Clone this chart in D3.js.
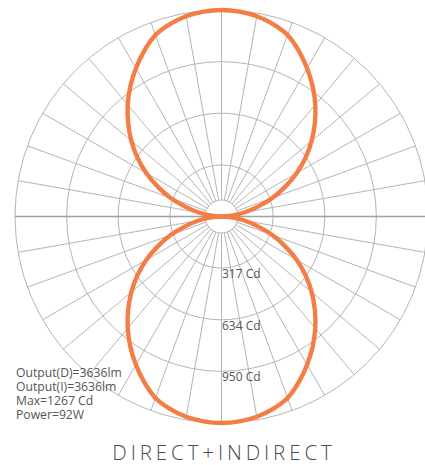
<!DOCTYPE html>
<html>
<head>
<meta charset="utf-8">
<script src="https://cdn.jsdelivr.net/npm/d3@7"></script>
<style>
  html, body { margin: 0; padding: 0; background: #fff; overflow: hidden; }
  svg { display: block; }
</style>
</head>
<body>
<svg id="chart" width="425" height="465"></svg>
<script>
// ---- data ----
const angles = [0,5,10,15,20,25,30,35,40,45,50,55,60,65,70,75,80,85,90];
const directCd = [1267,1262,1248,1222,1185,1122,1050,975,895,810,722,630,532,430,332,228,142,62,0];
const indirectCd = [1267,1262,1248,1222,1185,1122,1050,975,895,810,722,630,532,430,332,228,142,62,0];
const ringTicks = [317, 634, 950];
const maxCd = 1267;
const infoLines = ["Output(D)=3636lm", "Output(I)=3636lm", "Max=1267 Cd", "Power=92W"];
const title = "DIRECT+INDIRECT";

// ---- layout ----
const cx = 221.5, cy = 216.5, R = 206.5, hole = 16.5;
const svg = d3.select("#chart");
const g = svg.append("g").attr("transform", `translate(${cx},${cy})`);
const r = d3.scaleLinear().domain([0, maxCd]).range([0, R]);
const gridColor = "#b5b5b5";

// rings
const rings = ringTicks.concat([maxCd]);
g.selectAll("circle.ring").data(rings).enter().append("circle")
  .attr("class", "ring").attr("r", d => r(d))
  .attr("fill", "none").attr("stroke", gridColor).attr("stroke-width", 1);
g.append("circle").attr("r", hole).attr("fill", "none").attr("stroke", gridColor).attr("stroke-width", 1);

// radial lines every 10 degrees
const spokes = d3.range(0, 360, 10).filter(a => a !== 90 && a !== 270);
g.selectAll("line.spoke").data(spokes).enter().append("line")
  .attr("class", "spoke")
  .attr("x1", d => hole * Math.sin(d * Math.PI / 180))
  .attr("y1", d => -hole * Math.cos(d * Math.PI / 180))
  .attr("x2", d => R * Math.sin(d * Math.PI / 180))
  .attr("y2", d => -R * Math.cos(d * Math.PI / 180))
  .attr("stroke", gridColor).attr("stroke-width", 1);
// horizontal axis through the centre
g.append("line").attr("x1", -R).attr("x2", R).attr("y1", 0).attr("y2", 0)
  .attr("stroke", "#a0a0a0").attr("stroke-width", 1.5);

// curves
const toRad = a => a * Math.PI / 180;
function lobe(values, up) {
  const pts = [];
  for (let i = angles.length - 1; i >= 0; i--) pts.push([-angles[i], values[i]]);
  for (let i = 1; i < angles.length; i++) pts.push([angles[i], values[i]]);
  return pts.map(([a, v]) => [up ? toRad(a) : Math.PI + toRad(a), r(v)]);
}
const line = d3.lineRadial().angle(d => d[0]).radius(d => d[1]).curve(d3.curveCatmullRom);
const orange = "#f47d45";
g.append("path").datum(lobe(indirectCd, true)).attr("d", line)
  .attr("fill", "none").attr("stroke", orange).attr("stroke-width", 4.4);
g.append("path").datum(lobe(directCd, false)).attr("d", line)
  .attr("fill", "none").attr("stroke", orange).attr("stroke-width", 4.4);

// ring labels
const font = "'Open Sans', Lato, sans-serif";
g.selectAll("text.tick").data(ringTicks).enter().append("text")
  .attr("class", "tick")
  .attr("x", 0.5).attr("y", d => r(d) + 10)
  .attr("font-family", font).attr("font-size", 12)
  .attr("fill", "#555").text(d => d + " Cd");

// info block
svg.selectAll("text.info").data(infoLines).enter().append("text")
  .attr("class", "info")
  .attr("x", 16).attr("y", (d, i) => 377 + i * 14)
  .attr("font-family", font).attr("font-size", 12.2)
  .attr("fill", "#555").text(d => d);

// title
svg.append("text").attr("x", 224).attr("y", 459.8)
  .attr("text-anchor", "middle")
  .attr("font-family", font).attr("font-size", 20.5).attr("font-weight", 300)
  .attr("letter-spacing", 3.9)
  .attr("fill", "#4a4a4a").text(title);
</script>
</body>
</html>
